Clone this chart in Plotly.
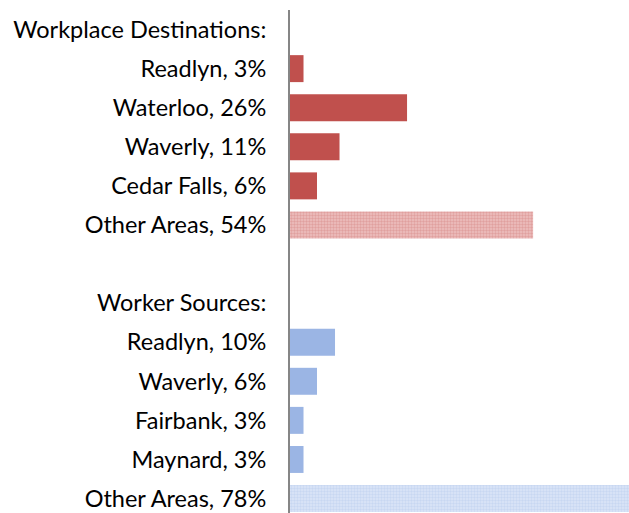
import plotly.graph_objects as go

# Data
dest_labels = ["Readlyn, 3%", "Waterloo, 26%", "Waverly, 11%", "Cedar Falls, 6%"]
dest_values = [3, 26, 11, 6]
dest_other_label = "Other Areas, 54%"
dest_other_value = 54

src_labels = ["Readlyn, 10%", "Waverly, 6%", "Fairbank, 3%", "Maynard, 3%"]
src_values = [10, 6, 3, 3]
src_other_label = "Other Areas, 78%"
src_other_value = 78

header_dest = "Workplace Destinations:"
header_src = "Worker Sources:"
spacer = " "

categories = ([header_dest] + dest_labels + [dest_other_label, spacer, header_src]
              + src_labels + [src_other_label])

RED = "#C0504D"
BLUE = "#9BB5E4"
FONT = "Lato, Carlito, Calibri, sans-serif"

fig = go.Figure()
fig.add_trace(go.Bar(y=dest_labels, x=dest_values, orientation="h",
                     marker=dict(color=RED, line=dict(width=0))))
fig.add_trace(go.Bar(y=[dest_other_label], x=[dest_other_value], orientation="h",
                     marker=dict(color="#E6A9A7", line=dict(width=0),
                                 pattern=dict(shape=".", fgcolor="#D4807E", bgcolor="#EDC0BF",
                                              size=3, solidity=0.5))))
fig.add_trace(go.Bar(y=src_labels, x=src_values, orientation="h",
                     marker=dict(color=BLUE, line=dict(width=0))))
fig.add_trace(go.Bar(y=[src_other_label], x=[src_other_value], orientation="h",
                     marker=dict(color="#CCDAF3", line=dict(width=0),
                                 pattern=dict(shape=".", fgcolor="#B3C8EC", bgcolor="#DCE6F7",
                                              size=3, solidity=0.5))))

fig.update_layout(
    width=629, height=513,
    margin=dict(l=290, r=0, t=10, b=0),
    paper_bgcolor="white", plot_bgcolor="white",
    barmode="relative", bargap=0.31,
    showlegend=False,
    hovermode=False,
    font=dict(family=FONT, size=23.5, color="#000000"),
)
fig.update_xaxes(range=[0, 75.3], visible=False, showgrid=False, zeroline=False)
fig.update_yaxes(type="category", categoryorder="array", categoryarray=categories,
                 range=[12.37, -0.5], autorange=False,
                 showline=True, linecolor="#868686", linewidth=2,
                 showgrid=False, zeroline=False, ticks="",
                 ticklabelstandoff=17,
                 tickfont=dict(family=FONT, size=23.5, color="#000000"))

fig.write_html(
    "out.html",
    config={"displayModeBar": False, "staticPlot": True},
    post_script="document.body.style.margin='0';document.body.style.overflow='hidden';",
)
